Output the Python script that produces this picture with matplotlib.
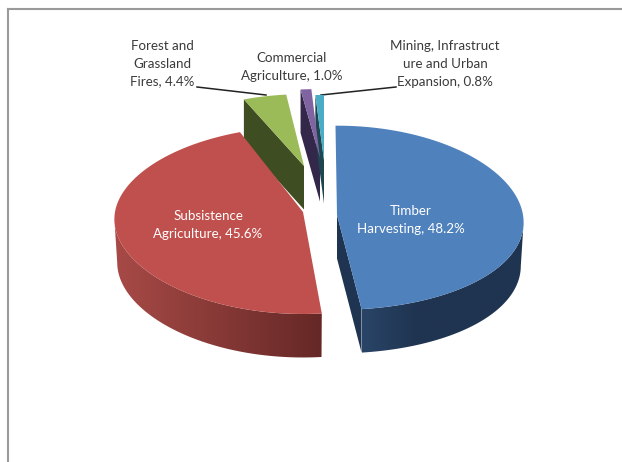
"""
Exploded 3D pie of deforestation drivers, drawn by hand with polygons
"""
import numpy as np
import matplotlib
matplotlib.use('Agg')
import matplotlib.pyplot as plt
from matplotlib.colors import to_rgb
from matplotlib.patches import Polygon

plt.rcParams['font.family'] = ['Lato', 'DejaVu Sans']

# ========== data ==========
labels = ['Timber\nHarvesting, 48.2%', 'Subsistence\nAgriculture, 45.6%',
          'Forest and\nGrassland\nFires, 4.4%', 'Commercial\nAgriculture, 1.0%',
          'Mining, Infrastruct\nure and Urban\nExpansion, 0.8%']
values = [48.2, 45.6, 4.4, 1.0, 0.8]

top_colors = ['#4F81BD', '#C0504D', '#9BBB59', '#8064A2', '#4BACC6']
side_light = ['#2A4568', '#A84A47', '#3F4D22', '#33284A', '#1E4650']
side_dark = ['#1F3450', '#652826', '#3F4D22', '#33284A', '#1E4650']

# 每块的顶点（像素坐标）、半轴、透视
apex = [(337, 215), (303, 212), (304, 166), (320, 158), (324, 160)]
semi_a = [186, 188, 170, 186, 186]
semi_b = [92, 88, 74, 71, 67]
turn = [-0.5, 1.2, 0, 0, 0]
front_k = [0.03, 0.137, 0.03, 0.03, 0.03]
back_k = 0.03
persp = 0.08
depth = 43.5

fig = plt.figure(figsize=(6.22, 4.62), dpi=100)
ax = fig.add_axes([0, 0, 1, 1])

# 外框
ax.plot([8, 8], [462, 9], color='#9A9A9A', lw=1.5)
ax.plot([8, 622], [9, 9], color='#9A9A9A', lw=1.5)


def rim(i, t):
    """t: 从12点顺时针的角度(度)"""
    r = np.radians(t + turn[i])
    u, v = np.sin(r), np.cos(r)
    ky = np.where(v >= 0, back_k, front_k[i])
    return apex[i][0] + semi_a[i] * u / (1 + persp * v), apex[i][1] - semi_b[i] * v / (1 + ky * v)


edges = np.cumsum([0] + values) * 3.6

for i in range(len(values)):
    ts = np.linspace(edges[i], edges[i + 1], 300)
    x, y = rim(i, ts)
    ax0, ay0 = apex[i]

    # 切面
    if i == 0:
        cx, cy = x[-1], y[-1]
    else:
        cx, cy = x[0], y[0]
    if i != 1:
        ax.add_patch(Polygon([(ax0, ay0), (cx, cy), (cx, cy + depth), (ax0, ay0 + depth)],
                             fc=side_dark[i], ec='none', zorder=2))

    # 外侧面，从最外点开始，颜色按 x 渐变
    if i < 2:
        if i == 0:
            vx, vy = x[np.argmax(x):], y[np.argmax(x):]
        else:
            vx, vy = x[:np.argmin(x) + 1], y[:np.argmin(x) + 1]
        bx = ax0 + 0.985 * (vx - ax0)  # 底边略收
        side = Polygon(np.vstack([np.column_stack([vx, vy]),
                                  np.column_stack([bx, vy + depth])[::-1]]),
                       fc='none', ec='none', zorder=2)
        ax.add_patch(side)
        f = np.linspace(0, 1, 256)
        if i == 0:
            f = np.clip(f * 3, 0, 1)
        c1, c2 = np.array(to_rgb(side_light[i])), np.array(to_rgb(side_dark[i]))
        grad = (c1 + (c2 - c1) * f[:, None])[None, :, :]
        im = ax.imshow(grad, extent=[vx.min(), vx.max(), 400, 150], aspect='auto', zorder=2)
        im.set_clip_path(side)

    # 顶面
    ax.add_patch(Polygon(np.vstack([[ax0, ay0], np.column_stack([x, y])]),
                         fc=top_colors[i], ec='none', zorder=3))

ax.set_xlim(0, 622)
ax.set_ylim(462, 0)
ax.axis('off')

# ========== 标签 ==========
txt = dict(fontsize=9.6, ha='center', va='center', linespacing=1.55, zorder=5)
ax.text(411, 220, labels[0], color='white', **txt)
ax.text(208, 225, labels[1], color='white', **txt)
ax.text(162, 64, labels[2], color='#3A3A3A', **txt)
ax.text(292, 67, labels[3], color='#3A3A3A', **txt)
ax.text(445, 64, labels[4], color='#3A3A3A', **txt)

# 引导线
ax.plot([197, 266], [87, 95], color='#222222', lw=1.1)
ax.plot([396, 321], [87, 95], color='#222222', lw=1.1)

fig.savefig('out.png', dpi=100)
